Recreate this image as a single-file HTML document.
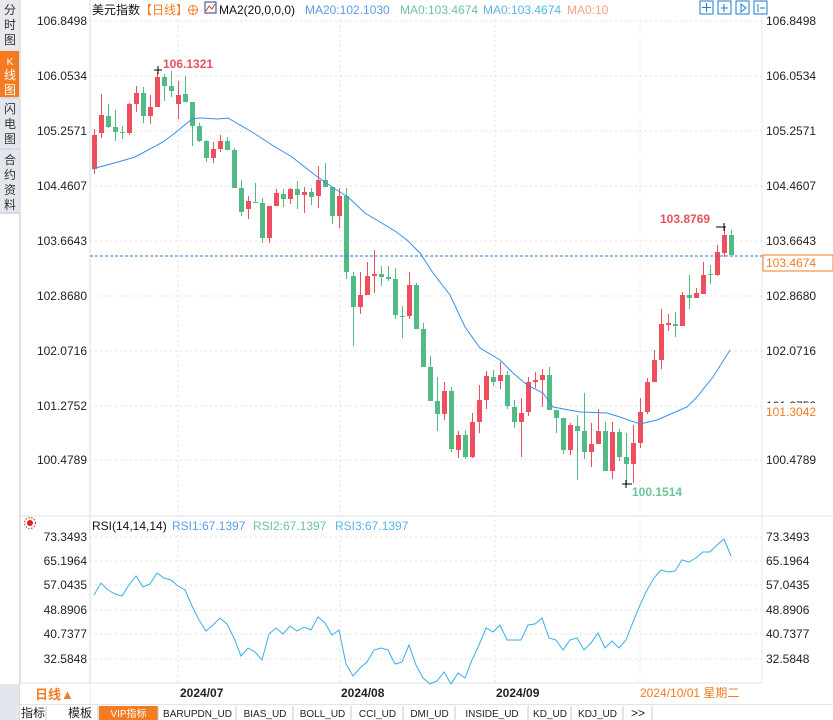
<!DOCTYPE html>
<html><head><meta charset="utf-8"><style>
body{margin:0;width:833px;height:720px;overflow:hidden;background:#fff;font-family:"Liberation Sans","Noto Sans CJK SC",sans-serif;}
svg{position:absolute;left:0;top:0}
text{font-family:"Liberation Sans","Noto Sans CJK SC",sans-serif}
</style></head><body>
<svg id="s" width="833" height="720" xmlns="http://www.w3.org/2000/svg">
<rect x="0" y="0" width="20" height="720" fill="#e4e6ee"/>
<rect x="0" y="0" width="19" height="50" fill="#e8e9ef"/>
<rect x="0" y="51" width="19" height="46" fill="#f47b20"/>
<line x1="0" y1="98" x2="19" y2="98" stroke="#c8c8d0"/>
<line x1="0" y1="149" x2="19" y2="149" stroke="#c8c8d0"/>
<line x1="0" y1="213" x2="19" y2="213" stroke="#c8c8d0"/>
<rect x="0" y="214" width="19" height="470" fill="#fff"/>
<line x1="20" y1="0" x2="20" y2="720" stroke="#d0d0d8"/>
<g font-size="12" text-anchor="middle" fill="#333">
<text x="10" y="14">分</text><text x="10" y="29">时</text><text x="10" y="44">图</text>
<text x="10" y="65" fill="#fff" font-size="10">K</text><text x="10" y="79" fill="#fff">线</text><text x="10" y="94" fill="#fff">图</text>
<text x="10" y="113">闪</text><text x="10" y="128">电</text><text x="10" y="143">图</text>
<text x="10" y="164">合</text><text x="10" y="179">约</text><text x="10" y="194">资</text><text x="10" y="209">料</text>
</g>
<line x1="90" y1="0" x2="90" y2="705" stroke="#d8dce6"/>
<line x1="762" y1="0" x2="762" y2="683" stroke="#e8e8ee"/>
<line x1="20" y1="516" x2="833" y2="516" stroke="#e0e0e6"/>
<line x1="20" y1="683" x2="762" y2="683" stroke="#e0e0e6"/>
<g id="grid" stroke="#e2e2e8" stroke-dasharray="2,3"></g>
<g id="lbl" font-size="12" fill="#222"></g>
<g font-size="12">
<text x="92" y="14" fill="#111">美元指数</text>
<text x="140" y="14" fill="#f47b20">【日线】</text>
<circle cx="193" cy="10" r="4.5" fill="none" stroke="#f47b20"/><line x1="188" y1="10" x2="198" y2="10" stroke="#f47b20"/><line x1="193" y1="5" x2="193" y2="15" stroke="#f47b20"/>
<rect x="205" y="2" width="11" height="11" fill="#fff" stroke="#1c3f8a"/><polyline points="206,11 209,6 212,9 215,4" fill="none" stroke="#d33"/>
<text x="219" y="14" fill="#111">MA2(20,0,0,0)</text>
<text x="305" y="14" fill="#5a9de8">MA20:102.1030</text>
<text x="400" y="14" fill="#6cc49a">MA0:103.4674</text>
<text x="483" y="14" fill="#5ab4e8">MA0:103.4674</text>
<text x="567" y="14" fill="#f5a08a">MA0:10</text>
<text x="92" y="530" fill="#111">RSI(14,14,14)</text>
<text x="172" y="530" fill="#5a9de8">RSI1:67.1397</text>
<text x="253" y="530" fill="#6cc49a">RSI2:67.1397</text>
<text x="335" y="530" fill="#5ab4e8">RSI3:67.1397</text>
</g>
<g fill="none" stroke="#1e7ac8">
<rect x="700" y="1" width="13" height="13"/><rect x="718" y="1" width="13" height="13"/><rect x="736" y="1" width="13" height="13"/><rect x="754" y="1" width="13" height="13"/>
<path d="M706.5 3v9M702 7.5h9M724 4v8M721 8h7M741 4v8l5-4zM758 4v8M760 8h5"/>
</g>
<circle cx="30" cy="523" r="3" fill="#e02020"/><circle cx="30" cy="523" r="5.5" fill="none" stroke="#e02020" stroke-dasharray="1.5,1.5"/>
<g id="c"></g>
<line x1="90" y1="256" x2="762" y2="256" stroke="#2a78d8" stroke-dasharray="3,2"/>
<polyline id="ma" fill="none" stroke="#3a8ee8" stroke-width="1"/>
<polyline id="rsi" fill="none" stroke="#3aaee8" stroke-width="1"/>
<g font-size="12" font-weight="bold">
<text x="163" y="68" fill="#e8505e">106.1321</text>
<line x1="154" y1="70" x2="162" y2="70" stroke="#000"/><line x1="158" y1="66" x2="158" y2="74" stroke="#000"/>
<text x="660" y="223" fill="#e8505e">103.8769</text>
<line x1="716" y1="227" x2="726" y2="227" stroke="#000"/><line x1="724" y1="223" x2="724" y2="231" stroke="#000"/>
<text x="632" y="496" fill="#6cc49a">100.1514</text>
<line x1="622" y1="484" x2="632" y2="484" stroke="#000"/><line x1="626" y1="480" x2="626" y2="488" stroke="#000"/>
</g>
<rect x="763" y="255" width="70" height="16" fill="#fff" stroke="#f47b20"/>
<text x="766" y="267" font-size="12" fill="#f47b20">103.4674</text>
<rect x="764" y="403" width="68" height="12" fill="#fff"/>
<text x="766" y="416" font-size="12" fill="#f47b20">101.3042</text>
<rect x="20" y="684" width="70" height="20" fill="#fff"/>
<text x="35" y="699" font-size="13" font-weight="bold" fill="#f47b20">日线▲</text>
<g font-size="12" font-weight="bold" fill="#222"><text x="180" y="697">2024/07</text><text x="341" y="697">2024/08</text><text x="496" y="697">2024/09</text></g>
<text x="640" y="697" font-size="12" fill="#f47b20">2024/10/01 星期二</text>
<line x1="20" y1="705" x2="833" y2="705" stroke="#c8c8d0"/>
<rect x="20" y="705" width="813" height="15" fill="#fff"/>
<g id="tabs" font-size="11" fill="#222"></g>
</svg>
<script>
var N="http://www.w3.org/2000/svg";
function el(p,t,a,tx){var e=document.createElementNS(N,t);for(var k in a)e.setAttribute(k,a[k]);if(tx)e.textContent=tx;var P=document.getElementById(p);P.insertBefore(e,null);return e;}
var ty=[21,76,131,186,241,296,351,406,460],tl=["106.8498","106.0534","105.2571","104.4607","103.6643","102.8680","102.0716","101.2752","100.4789"];
ty.forEach(function(y,i){el("grid","line",{x1:90,y1:y,x2:762,y2:y});el("lbl","text",{x:87,y:y+4,"text-anchor":"end"},tl[i]);el("lbl","text",{x:766,y:y+4},tl[i]);});
var ry=[537,561,585,610,634,659],rl=["73.3493","65.1964","57.0435","48.8906","40.7377","32.5848"];
ry.forEach(function(y,i){el("grid","line",{x1:90,y1:y,x2:762,y2:y});el("lbl","text",{x:87,y:y+4,"text-anchor":"end"},rl[i]);el("lbl","text",{x:766,y:y+4},rl[i]);});
[178,340,495,640].forEach(function(x){el("grid","line",{x1:x,y1:20,x2:x,y2:683});});
var d=[["r",135,169,129,174],["r",115,133,94,138],["g",116,127,104,128],["g",127,132,110,141],["g",132,132,126,139],["r",104,133,103,135],["r",93,104,86,112],["g",93,116,87,123],["r",107,116,95,124],["r",77,107,72,107],["g",77,86,74,101],["g",86,91,71,97],["r",95,104,81,119],["g",94,102,76,102],["g",102,126,102,146],["g",126,141,123,142],["g",141,158,140,162],["r",149,158,142,163],["r",141,149,135,152],["g",141,150,137,150],["g",150,188,148,188],["g",188,212,180,216],["r",201,209,196,219],["g",202,202,183,203],["g",203,238,198,243],["r",206,238,206,243],["r",193,206,189,206],["g",194,199,189,207],["r",189,199,188,204],["g",189,195,181,209],["r",192,195,187,213],["g",192,197,188,205],["r",180,196,166,208],["g",180,187,163,187],["g",187,216,187,224],["r",196,216,188,228],["g",196,272,188,279],["g",276,307,272,346],["r",295,307,272,314],["r",276,295,262,295],["r",274,276,250,293],["g",274,277,266,286],["g",277,279,266,281],["g",279,315,268,319],["g",316,316,306,338],["r",285,316,272,319],["g",285,329,283,329],["g",329,367,323,367],["g",367,401,356,401],["g",401,414,377,431],["r",391,414,382,420],["g",391,449,387,452],["r",435,450,431,458],["g",435,457,430,459],["r",422,457,413,458],["r",400,422,385,433],["r",376,400,371,409],["g",377,382,370,386],["r",375,381,362,389],["g",375,406,371,409],["g",407,422,400,428],["r",413,422,398,457],["r",382,412,377,416],["r",380,382,372,388],["r",375,380,369,407],["g",375,410,367,410],["g",410,418,410,433],["g",418,450,418,454],["r",425,450,423,455],["g",426,431,415,480],["g",431,452,393,459],["r",444,452,423,467],["r",431,444,409,444],["g",431,471,422,471],["r",432,471,422,479],["g",432,457,429,461],["g",457,464,433,485],["r",443,464,425,483],["r",412,443,398,448],["r",382,412,378,414],["r",360,382,350,382],["r",324,360,309,369],["r",323,325,314,331],["g",324,326,312,337],["r",295,326,292,326],["g",295,298,275,309],["r",293,298,288,298],["r",275,294,262,294],["g",274,275,265,284],["r",252,275,245,276],["r",235,253,227,257],["g",235,255,230,255]];
d.forEach(function(c,i){var x=94+i*7,col=c[0]=="r"?"#ee4e5e":"#52ba84";
el("c","line",{x1:x+0.5,y1:c[3],x2:x+0.5,y2:c[4],stroke:col});
el("c","rect",{x:x-2,y:c[1],width:5,height:Math.max(1,c[2]-c[1]),fill:col});});
document.getElementById("ma").setAttribute("points","92,169 118,162 135,157 163,142 175,133 192,119 200,118 218,119 228,118 252,132 272,145 292,157 315,175 332,187 348,197 365,213 380,222 395,231 407,240 420,253 433,273 450,295 465,327 480,348 500,360 513,373 527,385 543,393 553,407 580,412 607,413 620,417 640,424 657,420 673,413 687,407 697,397 713,377 730,350");
var r=[595,583,590,594,596,585,576,587,584,573,578,580,586,590,606,620,631,625,618,624,638,656,648,652,660,634,628,634,626,631,627,630,617,623,635,630,664,676,668,662,650,648,650,664,662,645,665,678,684,681,672,684,673,678,660,645,628,632,625,640,640,640,625,624,618,638,640,650,640,638,650,643,633,648,641,648,640,622,605,590,578,570,572,571,560,562,558,552,552,545,539,556];
document.getElementById("rsi").setAttribute("points",r.map(function(y,i){return (94+i*7)+","+y;}).join(" "));
var tabs=[["指标",20,46],["模板",62,98],["VIP指标",99,158],["BARUPDN_UD",159,236],["BIAS_UD",237,293],["BOLL_UD",294,351],["CCI_UD",352,403],["DMI_UD",404,455],["INSIDE_UD",456,528],["KD_UD",529,571],["KDJ_UD",572,623],[">>",624,652]];
tabs.forEach(function(t){if(t[0]=="VIP指标")el("tabs","rect",{x:t[1],y:706,width:t[2]-t[1],height:14,fill:"#f47b20"});
el("tabs","line",{x1:t[2],y1:706,x2:t[2],y2:720,stroke:"#c8c8d0"});
el("tabs","text",{x:(t[1]+t[2])/2,y:717,"text-anchor":"middle",fill:t[0]=="VIP指标"?"#fff":"#222","font-size":t[0].length>3?10:12},t[0]);});
</script>
</body></html>
